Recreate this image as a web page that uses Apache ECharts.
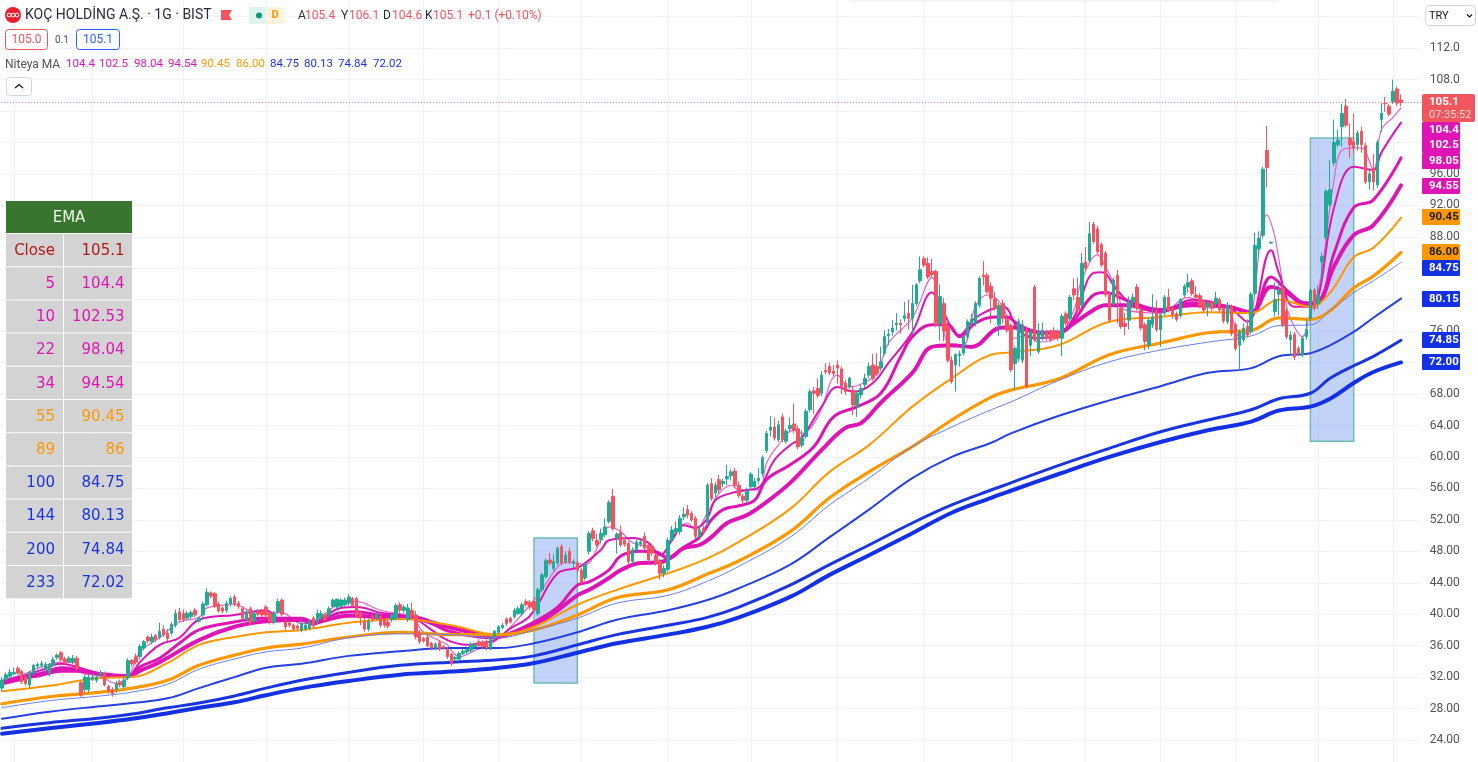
<!DOCTYPE html>
<html><head><meta charset="utf-8">
<style>html,body{margin:0;padding:0;background:#fff}#c{width:1478px;height:762px}</style>
<script src="https://cdn.jsdelivr.net/npm/echarts@6/dist/echarts.min.js"></script>
</head><body><div id="c"></div>
<script>
// open, close, low, high per session, in order
const ohlc=[
[30.6,31.6,30.2,32],[31.7,32.3,31.5,32.6],[32.1,32.6,31.9,33],[32.4,32.6,32.2,33.2],[33.1,32.5,32.3,33.4],[32.7,31.4,31.1,32.9],[32,31.2,30.9,32.2],[31,32.6,30.5,32.8],[32.5,33.5,32.2,33.7],[33.4,33.6,33,33.9],
[33.5,33.7,33.2,34.1],[32.9,33.6,32.6,33.9],[32.5,33.6,32.1,33.8],[33.5,34.2,33.3,34.6],[34.5,34.8,34.2,35],[35.1,34.2,34,35.3],[34.3,33.9,33.6,34.6],[34,34.4,33.8,34.7],[33.9,34.4,33.6,34.8],[34.4,33.1,32.8,34.7],
[31.3,29.7,29.5,31.5],[30.4,32,30.1,32.3],[30.4,32,30,32.4],[31.7,32,31.5,32.3],[31.6,32,31.3,32.3],[32.3,32.6,32.1,32.9],[32.5,31,30.8,32.7],[30.8,30.2,29.9,31],[30.4,29.9,29.5,30.7],[30.4,31.2,30,31.5],
[31.4,31,30.7,31.7],[30.8,31.6,30.5,32],[31.9,34.1,31.6,34.4],[34.1,33.7,33.4,34.3],[34.6,33.9,33.6,35],[34.6,35.9,34.3,36.2],[35.7,36.5,35.4,36.7],[37.1,36.6,36.3,37.3],[36.5,37.1,36.2,37.5],[37.3,36.8,36.5,37.5],
[37.1,37.8,36.8,38.9],[38.1,37.4,37.1,38.6],[37.6,36.9,36.6,38.1],[37.6,38.7,37.3,39],[38.6,40.1,38.3,40.6],[40.3,39.3,39,40.8],[40.1,39.3,39,40.6],[39.5,40.1,39.2,40.4],[39.7,40.2,39.4,40.5],[40.5,39.9,39.6,40.8],
[39.1,39.5,38.9,39.7],[39.9,41.3,39.6,41.6],[41.2,42.8,41,43.3],[42.7,42.3,42,42.9],[42.6,41,40.8,42.8],[41.3,40.4,40.2,41.6],[40.8,40.4,40.1,41],[40.5,41.4,40.2,41.7],[41.3,42,41,42.3],[42.2,41.3,41,42.5],
[41.4,41,40.7,41.7],[40.7,39.5,39.2,41],[39.3,40.3,39,40.6],[40.7,38.9,38.6,41],[39.2,40.1,38.9,40.4],[40.3,40,39.7,40.6],[40.4,39.9,39.6,40.7],[40.9,39.9,39.5,41.2],[40.1,39,38.7,40.4],[39,40.1,38.7,40.4],
[40.3,41.6,40,42],[41.8,40,39.7,42],[39,38.4,38,39.3],[38.9,38.6,38.3,39.1],[38.6,38.1,37.9,38.8],[38.5,38.2,37.9,38.7],[38,38.8,37.7,39.2],[38.1,38.6,37.9,39],[38.2,39,38,39.3],[39.5,38.5,38.2,39.8],
[39,40.1,38.7,40.6],[39.6,40.1,39.3,40.5],[39.9,39.3,39.1,40.2],[39.9,40.7,39.6,41],[41,41.8,40.8,42],[40.9,41.9,40.6,42],[41,41.8,40.8,42],[41.2,41.8,41,42.1],[41.4,42.2,41.1,42.6],[42,41.1,40.9,42.2],
[42,39.7,39.5,42.2],[40.1,39.5,38.6,40.3],[39,38.1,37.8,39.6],[38.1,39.1,37.8,39.4],[39.7,39.3,39,40],[39.5,40,39.2,40.3],[39.7,38.6,38.3,40],[39.3,38.6,38.3,39.5],[39,38.5,38.2,39.3],[39.3,39.9,39,40.2],
[39.5,41.1,39.2,41.4],[41.2,40.5,40.2,41.5],[40.5,40.9,40.1,41.2],[39.3,40.8,39,41.3],[40.5,39.7,39.4,41.5],[39.9,37.1,36.8,40.4],[37.6,36.5,36.2,38],[36.9,36.6,36.4,37.1],[37.1,36,35.8,37.4],[36.3,35.7,35.4,36.5],
[35.7,36.2,35.5,36.4],[36.4,35.6,35.3,36.7],[35.9,35.7,35.5,36.1],[35.5,34.6,34.3,35.8],[34.9,33.7,33.4,35.1],[34.3,34.5,34.1,34.7],[34.3,35,34,35.2],[35,35.3,34.8,35.6],[35.2,35.5,34.9,35.7],[35.4,36.1,35.1,36.4],
[35.9,36.1,35.7,36.4],[36.5,36,35.7,36.8],[36.4,35.9,35.6,36.7],[36.5,35.7,35.4,36.8],[35.7,36.9,35.4,37.1],[37,37.8,36.8,38],[37.7,38.4,37.5,38.6],[38.3,38.6,38.1,38.9],[39.4,38.8,38.5,39.6],[39.5,39,38.8,39.7],
[39.7,40.5,39.4,40.8],[40.1,40.7,39.9,41],[40.1,41.2,39.8,41.5],[41.6,41.2,40.9,41.9],[41.5,40.9,40.6,41.8],[41.6,40.6,40.3,41.9],[40.1,43.1,39.8,43.4],[43.1,45,42.8,45.3],[44.8,46.8,44.5,47.1],[46.9,46.5,46.2,47.8],
[45.8,46.7,45.4,47.6],[46.5,48.4,46.2,48.6],[48.6,46.5,46.2,48.9],[46.7,47.5,46.4,48],[48,46.7,46.4,48.5],[46.5,46.7,45.9,47],[46.5,45.6,45.3,46.8],[45.6,44.1,43.8,45.9],[44.6,46.3,44.3,46.6],[48,50.3,47.6,50.6],
[50.6,49.6,49.3,51],[49.4,48.8,48.5,50.2],[49.5,50.3,49,50.9],[50.1,51.1,49.8,52.2],[51.8,54.2,51.5,54.5],[55,50.9,50.6,55.9],[49.7,50.2,47.7,50.4],[50.4,48.8,48.5,51.3],[49.4,48.9,48.6,49.8],[49,46.7,46.4,49.3],
[46.7,48.2,46.4,48.5],[48.2,49.2,47.9,49.5],[48.9,49.2,48.6,49.6],[49.9,48.4,48.1,50.4],[48.8,46.9,46.6,49.1],[48.6,47.8,47.4,48.9],[47.5,46.5,46.2,47.8],[46.7,45.2,44.4,47],[45.2,45.8,44.7,46.2],[45.7,49.4,45.4,49.7],
[49.5,50.7,49.2,51.2],[50.5,50.9,50.2,51.8],[50.5,52.2,50.1,52.6],[52.4,52.7,52,53.6],[53.3,52.6,52.2,53.9],[52.8,52,51.7,53.1],[52.2,49.9,49.6,52.5],[49.9,50.7,49.4,51.3],[50.9,50.5,50.1,51.2],[51.6,56.4,51.2,56.7],
[56.6,54.7,54.4,57.3],[55.4,56.4,54.9,56.8],[57.1,55.8,55.4,57.7],[56.6,56.9,56.2,57.2],[57.2,57.5,56.4,59],[57.6,58.1,57,58.4],[58.2,56.4,56.1,58.6],[56.4,55.1,54.8,56.9],[55,54.5,54.1,55.3],[54.5,55.7,54.2,56.1],
[56.2,57.8,55.8,58.1],[56.2,56.9,55.9,57.3],[57,57.3,56.6,58.6],[57.9,59.9,57.5,60.2],[60.8,63,60.5,63.3],[63.4,63.8,62.6,65.2],[63.8,62.4,62.1,65],[62.2,64.1,61.9,64.6],[65.1,62.2,61.9,65.5],[62,63.3,61.7,63.6],
[63.6,64,63.2,65],[64.2,63.4,63,66.8],[63.6,61.3,61,64],[61.5,62.4,61.2,63.4],[62.6,65.8,62.3,66.1],[66,68.3,65.7,68.6],[68.4,68.1,65.5,68.9],[68.7,67.8,67.5,70],[68.1,70.4,67.7,70.9],[71,70.8,70.5,71.9],
[71.5,70.7,70.4,72],[70.9,70.6,70.2,71.7],[71.7,71.3,69.3,72.3],[71.2,69,68,71.5],[69.4,68.3,67.9,69.8],[68.9,70,68.6,70.2],[68.5,66.6,65.3,69],[66.4,68.1,65.1,68.5],[67.9,68.7,67.4,69.2],[69.2,70,68.8,70.6],
[70.4,71.5,70,72],[71.7,70,69.7,73.1],[71.5,70.6,70.3,73.2],[71.3,72.1,70.9,74],[73.2,75.3,72.9,76.1],[75.4,75.6,74.2,76.3],[75.9,76.4,75.4,77.4],[76.8,77,76.1,78.3],[77,76.8,75.7,77.5],[77.6,78,77.2,79.7],
[78.3,77.6,76.2,80],[77.6,79.5,75.5,81.9],[79.5,81.9,79.2,82.1],[82.4,83.8,82.1,85.5],[85.2,84.4,84.1,85.5],[84.6,82.9,82.6,85.4],[83.6,83.2,82.9,85.2],[83.6,76.8,76.5,83.8],[77,80.4,74.8,81.9],[79.5,76,74.7,80.2],
[76.6,72.3,72,77.3],[72.3,69.6,69.3,72.8],[71.7,73,68.3,73.2],[72.9,73.1,71.5,73.5],[73.2,75.3,72.9,75.6],[75.3,77.2,74.9,77.5],[77,77.5,76.6,78.2],[77,79.5,76.6,79.8],[79.3,82.7,79,83],[83.1,82.9,81.8,84.9],
[83.1,81,80.7,83.4],[81.7,80.2,77,82.2],[80.1,78.9,78.6,81],[76.8,79.3,75.4,79.6],[79.5,77.8,77,80],[77.6,76.1,75.8,78],[76.6,71.1,70.8,77],[71.9,73.8,68.5,74.1],[72.5,77.2,72.1,77.6],[72.3,76.8,71.9,77.4],
[76.1,69,68.7,76.5],[74.2,75.9,72.8,76.3],[81.6,74.9,74.6,81.9],[73.4,75.9,73.1,77],[75.1,76.1,74.8,77.1],[75.9,75.1,74.8,76.2],[75.9,74.9,74.6,76.2],[76.1,75.1,74.8,76.5],[75.9,75.1,74.8,76.2],[75.1,77.9,72.8,78.2],
[78.2,77,76.7,78.5],[77.6,80.3,77.3,80.6],[81.4,80.6,79.9,82.7],[80.3,78.7,78.4,82.8],[79.3,84.6,79,85.9],[84.8,84,83.7,86.7],[85,88.4,84.7,89.9],[89.6,87.4,87.1,89.9],[89,86.1,85.8,89.4],[87,84.4,84.1,87.3],
[85.9,80.6,80.3,86.2],[80.6,77.4,77.1,81],[79.5,82.5,79.2,82.8],[83.1,80.2,77,83.8],[78.9,76.6,76.3,79.2],[77,76.6,75.5,78.3],[77.4,79.7,76.2,80.4],[79.7,80.3,79,80.8],[81.6,78.9,78.6,82],[78.7,76.4,76.1,79.1],
[76.8,74.7,73.6,77.1],[74.2,77.4,73.7,77.7],[76.8,77.8,76.4,80.7],[78.5,76.2,75.9,79.9],[76.2,78.1,74,78.4],[78.3,80.3,78,80.6],[80.3,78.7,78.4,81.4],[78.9,78.1,77.6,79.2],[78.2,77.5,77.2,78.5],[78,80,77.7,80.2],
[80.6,81.7,80.3,82],[81.6,82.2,80.9,83.3],[82.4,80.8,80.5,82.7],[80.6,80.3,80,81.7],[80.5,79.2,78.9,80.8],[79.7,78.7,78.4,80],[79.1,79.5,77.9,79.8],[79.6,78.9,78.6,79.9],[79.5,80.2,79,81],[80,78.7,78.4,80.3],
[78.8,77.3,77,79.1],[77.2,79.3,76.9,79.7],[79.1,75.7,75.4,79.4],[76.8,73.8,73.5,77.1],[74.2,75.9,71,76.2],[74.9,76.4,74.6,77],[76.6,75.5,75.2,77.5],[75.9,80.7,75.6,81],[80.8,86.9,80.5,88.5],[86.5,87.8,85.3,88.7],
[88.2,96.6,87.8,96.9],[99,96.8,94.3,102.1],[87.2,87.3,87.1,87.4],[78.5,80,77.9,82.2],[80.7,81.2,78,82.1],[81.4,76.8,76.5,82],[78.5,75.3,75,78.9],[74.9,75.5,73,76],[75.6,72.7,72.3,75.9],[73.8,73.2,72.9,74.1],
[73,75.1,72.7,75.4],[75.3,76.2,74.9,77.5],[77.6,81.2,77.3,81.5],[81.2,78.9,78.6,81.5],[79.5,80.6,78.8,81.8],[84.8,85.5,82.6,86],[87.9,93.8,87.6,94.1],[92.1,94,91.8,97.8],[97.4,100,97,102.9],[99.7,100.3,99.4,101.6],
[102,103.7,99.5,104.9],[104.6,102.2,101.9,105.5],[100.5,99.7,98,102.4],[100.1,99.3,98.6,103.7],[99.7,101.2,98.9,101.5],[101.4,99.7,98.7,102],[99.6,95,94.7,100],[95,96,94,96.6],[96.7,95,93.9,98.5],[94.6,100,94.2,100.3],
[102.9,103.7,101.3,105],[105,104.9,103.9,105.8],[104.6,103.6,103.3,104.9],[105.2,106.5,104.9,108],[106.8,105,104.6,107.1],[105.4,105.1,104.6,106.1]
];
// moving-average readings: session number, value
const ema5=[[1,31.6],[6,32.3],[11,33.3],[16,33.9],[20,33.8],[21,32.6],[26,32.1],[30,31.2],[33,32],[36,35.2],[41,37],[46,39],[51,39.6],[53,40.8],[60,41.2],[65,40.3],[72,40.2],[77,38.8],[80,39],[87,41.4],[91,41.6],[97,40.5],[105,39.6],[108,37.7],[114,36.1],[115,35.4],[117,34.6],[121,35.4],[126,36.5],[131,38.9],[135,41.2],[138,43.1],[142,46],[144,46.6],[147,46.5],[149,46.3],[153,49.4],[155,51.1],[158,50.5],[161,49.1],[165,48.5],[169,47.4],[171,49.8],[175,51.6],[177,50.7],[180,52.9],[183,55.4],[186,56.4],[188,55.8],[193,55.8],[195,59.2],[198,61.5],[202,63.4],[204,63],[208,65.1],[213,70.4],[216,68.9],[220,69.5],[223,70.7],[226,74.5],[232,77.7],[237,82.8],[239,78.3],[242,74],[245,74.2],[248,79.1],[251,80.6],[255,79.1],[258,75.1],[262,75.5],[264,74.6],[269,75.3],[273,78.7],[275,82.5],[279,85.7],[281,84.2],[284,81.2],[286,78.7],[295,78.3],[302,80.3],[305,79.7],[312,78.9],[315,75.3],[317,75.8],[318,77.4],[322,90.8],[324,88],[327,79.1],[329,76.5],[331,75.3],[333,78.3],[335,80.9],[339,95.2],[341,99],[344,99.3],[346,99.3],[349,96.5],[351,101.6],[354,103.2],[356,104.4]];
const ema10=[[1,31.5],[6,32.1],[11,32.9],[16,33.7],[20,33.3],[26,32.4],[30,32],[33,32.1],[36,33.9],[41,36.1],[46,37],[51,39.3],[60,39.9],[68,40.5],[71,39.5],[80,39.1],[87,40.8],[91,40.9],[97,40.2],[105,39.6],[110,38],[114,36.7],[119,36.1],[122,36.3],[126,36.7],[130,38.2],[135,39.8],[142,45.2],[147,45.9],[149,46.5],[153,48.2],[155,49.4],[161,49.7],[165,49.1],[168,47.5],[171,49.4],[174,51.3],[177,51],[180,52.2],[182,54.5],[186,55.4],[190,55.8],[193,56.1],[197,59.6],[201,61.5],[204,62.5],[209,66.4],[213,68.9],[217,68.3],[222,69.4],[226,72],[232,75.9],[237,80.9],[239,79.3],[244,75.5],[248,77.7],[255,79.1],[259,76.1],[263,75.1],[269,75.5],[273,77.8],[278,83.4],[280,83.5],[284,81.2],[288,79.3],[295,78.4],[303,80],[312,79.1],[317,77.2],[323,86.3],[325,83.4],[329,79.1],[333,79.1],[335,80.3],[339,91.7],[344,96.9],[349,96.5],[351,98.7],[356,102.53]];
const ema22=[[1,31.4],[6,32],[11,32.5],[16,33.2],[20,33],[26,32.4],[33,32.1],[36,33.3],[41,34.4],[46,36.3],[51,38],[60,39],[67,39.5],[77,39.5],[80,39],[87,40.2],[91,40.3],[97,39.9],[105,39.6],[110,38.8],[114,37.9],[122,37.1],[126,37],[130,37.6],[136,39],[142,40.9],[147,43.7],[150,44.1],[155,45.6],[158,47.4],[163,48],[167,47.9],[170,47.1],[174,48.5],[178,49.8],[181,52],[184,53.3],[188,53.8],[192,54.5],[195,57.1],[201,59],[207,61.3],[212,65.1],[218,66.4],[224,68.1],[229,72.7],[232,75.3],[237,76.8],[241,76.8],[244,75.3],[248,77],[253,77.8],[256,77.8],[259,76.8],[265,75.8],[269,75.8],[273,77.4],[278,80.6],[281,80.9],[286,80],[295,78.7],[303,79.6],[312,79.1],[318,78.4],[323,82.9],[327,81.2],[332,79.6],[335,79.7],[339,85.9],[344,91.7],[349,92.7],[356,98.04]];
const ema34=[[1,31.2],[6,31.8],[11,32.3],[16,32.8],[20,32.8],[26,32.4],[33,32.1],[36,32.8],[41,33.9],[51,36.7],[60,38.4],[68,39.1],[77,39.3],[80,38.8],[82,39.1],[89,39.8],[91,39.8],[97,39.6],[105,39.6],[110,39],[114,38.4],[122,37.5],[126,37.1],[130,37.5],[136,38.6],[142,40.5],[147,42.4],[150,43.1],[155,44.6],[158,45.6],[163,46.5],[168,46.6],[171,47.3],[174,48.4],[178,48.8],[181,49.8],[185,51.6],[190,52.6],[194,53.9],[201,56.7],[209,60.9],[215,63.7],[219,64.3],[224,66.9],[232,70.7],[237,74],[242,74.2],[247,74],[254,76.4],[257,76.5],[265,75.8],[269,75.8],[273,77],[278,78.7],[281,79.3],[286,79.3],[295,78.7],[303,79.3],[312,79.1],[318,78.4],[323,81.6],[327,80.9],[332,79.3],[335,79.6],[339,84.2],[344,88.2],[349,89.5],[356,94.54]];
// slower averages share one list of session numbers
const slowSessions=[1,13,26,34,43,51,60,68,77,89,102,115,127,136,147,157,170,180,188,201,211,221,232,242,252,257,269,282,295,307,318,325,333,338,344,349,356];
const ema55=[30.2,30.9,31.9,32,33.8,36.1,37.1,37.7,38,38.9,39.4,38.6,37.4,38.4,41.2,43.1,45.2,47.1,49.2,53.4,58.1,61.5,66.4,70,73,73.3,74.2,77.2,77.8,78.4,78.3,80,79.1,80.9,85.4,86.6,90.45];
const ema89=[28.6,29.5,30.1,30.6,31.6,33.5,34.8,35.7,36.2,37.1,37.7,37.4,37.4,38,39.9,42.1,43.1,45.1,46.8,50.5,54.8,58.1,61.3,64.7,67.6,68.5,69.9,73,74.5,75.8,76.1,77.7,77.5,78.6,81.5,83,86];
const ema100=[28.1,29,29.6,30.1,31.1,33,34.3,35.2,35.7,37,37.5,37.4,37,38,39.5,41.4,42.4,44.2,46.1,49.8,53.9,57.3,61.3,63.8,66,67,69.7,72.1,73.6,74.6,75.4,76.7,76.8,78.6,80.9,82.4,84.75];
const ema144=[26.7,27.6,28.3,28.7,29.3,30.6,32,33.2,33.7,34.7,35.3,35.7,35.7,36.3,37.7,39.3,40.5,41.8,43.3,46.3,49.8,53.3,57.3,60,61.8,63,65.2,67.2,69,70.7,71.3,72.8,73.2,74.2,75.9,77.7,80.13];
const ema200=[25.5,26.2,26.8,27.3,28.1,28.7,29.6,30.6,31.6,32.6,33.5,33.9,34.2,34.7,36.1,37.4,38.6,39.6,40.9,43.7,46.3,48.8,51.6,53.9,55.8,56.7,58.9,61.1,63.2,64.7,66,67.4,68.1,70,71.6,72.8,74.84];
const ema233=[24.8,25.5,26.2,26.7,27.4,28.1,28.8,29.7,30.6,31.5,32.3,32.7,33.2,33.8,35.1,36.3,37.4,38.4,39.6,42.2,45,47.5,50.3,52.9,54.8,55.7,57.8,60,61.9,63.4,64.5,65.9,66.4,67.4,69.4,70.8,72.02];
// marked zones: first session, last session, low, high
const zoneA=[136,147,31.25,49.7];
const zoneB=[333,344,62,100.56];
const monthStarts=[4,24,47,68,89,108,127,148,170,191,213,235,257,276,295,314,335,354];
const priceTicks=[112,108,104,100,96,92,88,84,80,76,72,68,64,60,56,52,48,44,40,36,32,28,24];
const lastClose=105.1;
// table, legend and price tag text
const tableHead='EMA';
const tableLeft=['Close','5','10','22','34','55','89','100','144','200','233'];
const tableRight=['105.1','104.4','102.53','98.04','94.54','90.45','86','84.75','80.13','74.84','72.02'];
const legendValues=['104.4','102.5','98.04','94.54','90.45','86.00','84.75','80.13','74.84','72.02'];
const tagTexts=['104.4','102.5','98.05','94.55','90.45','86.00','84.75','80.15','74.85','72.00'];

// styles and layout
const MAG='#df14b4',ORG='#ff9800',BLU='#1a35e0',UP='#22ab94',DN='#f7525f';
const tagCenters=[130,145,161,186,217,252,268,299,340,362];
const tagFills=[MAG,MAG,MAG,MAG,ORG,ORG,'#1430e4','#1430e4','#1430e4','#1430e4'];
const tagInks=['#fff','#fff','#fff','#fff','#222','#222','#fff','#fff','#fff','#fff'];
const legendX=[66,99,134,168,201,236,270,304,338,373];
const legendInks=[MAG,MAG,MAG,MAG,ORG,ORG,BLU,BLU,BLU,BLU];
const tableInks=['#b31919',MAG,MAG,MAG,MAG,ORG,ORG,BLU,BLU,BLU,BLU];
const UI='Roboto,"Liberation Sans",sans-serif', TB='"DejaVu Sans",sans-serif';

const categories=Array.from({length:362},(_,i)=>String(i));
const zip=vals=>slowSessions.map((k,i)=>[k,vals[i]]);
const lineSeries=(name,data,color,width,z)=>({
  name,type:'line',data,z,symbol:'none',showSymbol:false,smooth:0.4,silent:true,
  lineStyle:{color,width,cap:'round',join:'round'}
});
const zone=z=>[{xAxis:z[0],yAxis:z[3]},{xAxis:z[1],yAxis:z[2]}];

const g=[];
const text=(t,x,y,fill,font,align)=>g.push({type:'text',z:100,silent:true,style:{text:t,x,y,fill,font,textAlign:align||'left',textVerticalAlign:'middle'}});
const rect=(x,y,w,h,fill,extra)=>g.push({type:'rect',z:90,silent:true,shape:Object.assign({x,y,width:w,height:h},extra&&extra.r?{r:extra.r}:{}),style:Object.assign({fill},extra&&extra.stroke?{stroke:extra.stroke,lineWidth:1}:{})});

// faint strip at top edge
rect(850,0,428,2,'#f4f4f4');
// header row
g.push({type:'circle',z:90,silent:true,shape:{cx:13,cy:15,r:8},style:{fill:'#ec1c2e'}});
[[9,15],[13,15],[17,15]].forEach(p=>g.push({type:'circle',z:95,silent:true,shape:{cx:p[0],cy:p[1],r:1.9},style:{fill:'none',stroke:'#fff',lineWidth:1}}));
text('KOÇ HOLDİNG A.Ş. · 1G · BIST',25,15.5,'#2a2e39','14px '+UI);
g.push({type:'polygon',z:90,silent:true,shape:{points:[[221,10],[232,10],[229,15],[232,20],[221,20]]},style:{fill:'#f7525f'}});
rect(249,7,17,17,'#dff3ef');
rect(266,7,18,17,'#fff3e0');
g.push({type:'circle',z:95,silent:true,shape:{cx:259,cy:15.5,r:3},style:{fill:'#089981'}});
text('D',275,15.5,ORG,'bold 11px '+UI,'center');
[['A',298],['Y',341],['D',383],['K',425]].forEach(a=>text(a[0],a[1],15.5,'#2a2e39','12px '+UI));
[['105.4',305],['106.1',349],['104.6',392],['105.1',433],['+0.1 (+0.10%)',468]].forEach(a=>text(a[0],a[1],15.5,'#f7525f','12px '+UI));
// bid/ask row
rect(5.5,29.5,42,20,'#fff',{r:3,stroke:'#f7525f'});
text('105.0',26.5,40,'#f7525f','12px '+UI,'center');
text('0.1',62,40,'#50535e','10px '+UI,'center');
rect(76.5,29.5,43,20,'#fff',{r:3,stroke:'#2962ff'});
text('105.1',98,40,'#2962ff','12px '+UI,'center');
// indicator legend
text('Niteya MA',5,64.5,'#50535e','12px '+UI);
legendValues.forEach((v,i)=>text(v,legendX[i],64.5,legendInks[i],'11.5px '+UI));
// collapse button
rect(6.5,77.5,25,18,'#fff',{r:3,stroke:'#d1d4dc'});
g.push({type:'polyline',z:95,silent:true,shape:{points:[[15,88],[19,84.5],[23,88]]},style:{fill:'none',stroke:'#131722',lineWidth:1.3}});
// currency select
rect(1425.5,5.5,50,20,'#fff',{r:4,stroke:'#d1d4dc'});
text('TRY',1429,16,'#131722','11px '+UI);
g.push({type:'polyline',z:95,silent:true,shape:{points:[[1467,14.5],[1469.5,17],[1472,14.5]]},style:{fill:'none',stroke:'#131722',lineWidth:1.2}});
// EMA table
rect(6,201,126,32,'#38762f');
text(tableHead,69,218,'#eef5ea','15px '+TB,'center');
tableLeft.forEach((t,i)=>{
  const top=234+33.2*i, mid=top+17;
  rect(6,top,57,32.2,'#d3d3d3');
  rect(64,top,68,32.2,'#d3d3d3');
  text(t,55,mid,tableInks[i],'15px '+TB,'right');
  text(tableRight[i],124.5,mid,tableInks[i],'15px '+TB,'right');
});
// price tags
rect(1422,94,53,28,'#f0565c',{r:2});
text(String(lastClose),1429,102,'#fff','bold 11.5px '+UI);
text('07:35:52',1429,115.5,'#ffd4d4','11px '+UI);
tagTexts.forEach((t,i)=>{
  rect(1422,tagCenters[i]-8,38,16,tagFills[i],{r:1});
  text(t,1429,tagCenters[i]+0.5,tagInks[i],'bold 11.5px '+UI);
});

const chart=echarts.init(document.getElementById('c'),null,{renderer:'canvas'});
chart.setOption({
  animation:false,
  backgroundColor:'#fff',
  textStyle:{fontFamily:UI},
  grid:{left:-1.94,top:-14.8,width:1422.64,height:786.25,containLabel:false,outerBoundsMode:'none'},
  xAxis:{type:'category',data:categories,boundaryGap:false,
    axisLine:{show:false},axisTick:{show:false},axisLabel:{show:false},
    splitLine:{show:true,interval:i=>monthStarts.includes(i),lineStyle:{color:'#f0f3fa',width:1}}},
  yAxis:{type:'value',position:'right',min:20,max:120,interval:4,scale:true,
    axisLine:{show:false},axisTick:{show:false},
    splitLine:{show:true,lineStyle:{color:'#f0f3fa',width:1}},
    axisLabel:{margin:9,color:'#50535e',fontSize:12,fontFamily:UI,
      formatter:v=>priceTicks.includes(v)?(v>=100?v.toFixed(1):v.toFixed(2)):''}},
  series:[
    {name:'Zones',type:'line',data:[],z:1,silent:true,
      markArea:{silent:true,z:1,itemStyle:{color:'rgba(90,130,235,0.36)',borderColor:'#6bbdb4',borderWidth:1.5},
        data:[zone(zoneA),zone(zoneB)]}},
    lineSeries('EMA 5',ema5,'#e360cb',1.2,5),
    lineSeries('EMA 10',ema10,MAG,2,6),
    lineSeries('EMA 22',ema22,MAG,3,7),
    lineSeries('EMA 34',ema34,MAG,4,8),
    lineSeries('EMA 55',zip(ema55),ORG,2,9),
    lineSeries('EMA 89',zip(ema89),ORG,3.2,10),
    lineSeries('EMA 100',zip(ema100),'#6b7ee8',1,11),
    lineSeries('EMA 144',zip(ema144),'#2640e2',2,12),
    lineSeries('EMA 200',zip(ema200),BLU,3,13),
    lineSeries('EMA 233',zip(ema233),'#1430e4',4,14),
    {name:'Price',type:'candlestick',z:20,silent:true,barWidth:3,
      data:ohlc.map((r,i)=>[i+1,r[0],r[1],r[2],r[3]]),
      encode:{x:0,y:[1,2,3,4]},
      itemStyle:{color:UP,color0:DN,borderColor:UP,borderColor0:DN,borderWidth:1}},
    {name:'Last close',type:'line',data:[],z:19,silent:true,itemStyle:{color:DN},
      markLine:{silent:true,symbol:'none',label:{show:false},animation:false,
        itemStyle:{color:DN},lineStyle:{type:[1,2],color:DN,opacity:0.65,width:1},data:[{yAxis:lastClose}]}}
  ],
  graphic:{elements:g}
});
</script></body></html>
